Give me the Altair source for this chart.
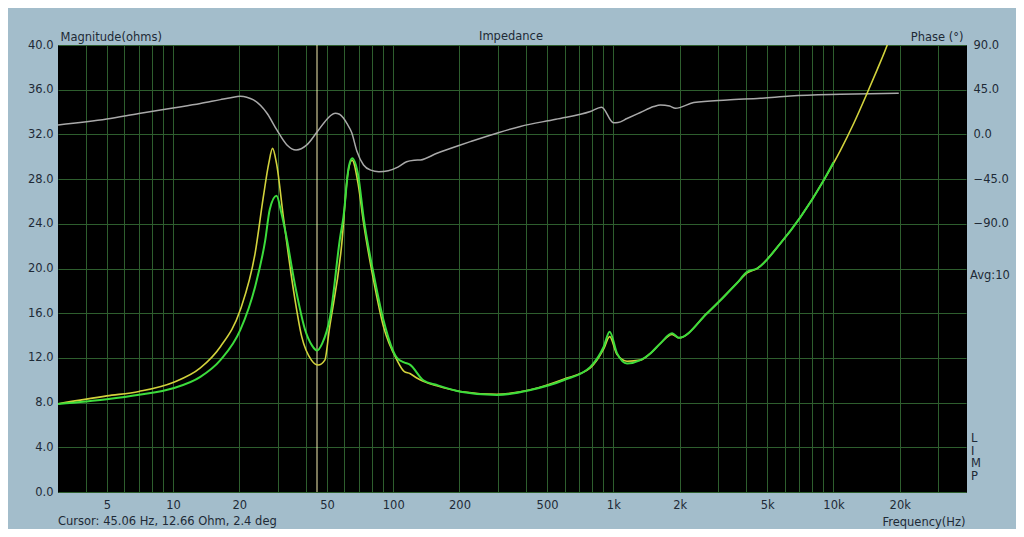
import altair as alt
import pandas as pd

# ---------------- data ----------------
green_freq = [3, 5, 7, 10, 13.3, 16.4, 20.2, 23.6, 26.2, 27.5,
              29.5, 31, 32.3, 35.9, 39.8, 42.8, 45.06, 47.6, 51.7, 57.4,
              59.4, 62.7, 65.1, 69.5, 73.3, 81.3, 90.3, 104, 112, 119,
              137, 158, 202, 296, 420, 594, 786, 904, 962, 1040,
              1154, 1327, 1473, 1636, 1849, 1983, 2668, 3648, 4053, 4500,
              5742, 7079, 9036, 10000]
green_ohm = [7.87, 8.3, 8.7, 9.28, 10.3, 11.8, 14.5, 18.4, 22.5, 25.3,
             26.5, 25.0, 23.4, 18.4, 14.5, 13.1, 12.66, 13.3, 15.7, 22.8,
             24.6, 29.0, 29.86, 28.2, 24.6, 19.6, 15.4, 12.0, 11.6, 11.4,
             10.0, 9.57, 8.98, 8.68, 9.13, 10.0, 11.2, 13.0, 14.35, 12.4,
             11.5, 11.8, 12.4, 13.3, 14.2, 13.8, 16.0, 18.7, 19.7, 20.0,
             22.25, 24.6, 27.9, 29.5]

yellow_freq = [3, 5, 7, 10, 13.3, 16.4, 20.2, 23.6, 25.7, 27.2,
               28.3, 29.5, 31.7, 35.2, 38.4, 42.5, 45.6, 48.9, 51.2, 58.4,
               62, 65, 69.5, 73.3, 81.3, 90.3, 104, 112, 119, 128,
               137, 158, 202, 296, 420, 594, 786, 904, 962, 1040,
               1154, 1327, 1473, 1636, 1849, 1983, 2668, 3648, 4053, 4500,
               5742, 7079, 9036, 10770, 12370, 14230, 15800, 17550, 18500]
yellow_ohm = [7.9, 8.6, 9.0, 9.8, 11.1, 13.0, 16.3, 21.4, 26.4, 29.4,
              30.75, 29.4, 24.6, 18.1, 13.9, 11.8, 11.36, 11.8, 14.5, 22.25,
              28.3, 29.7, 27.4, 24.1, 19.0, 14.8, 11.8, 10.8, 10.6, 10.2,
              9.9, 9.5, 9.0, 8.75, 9.15, 10.1, 11.1, 12.8, 13.9, 12.3,
              11.7, 11.8, 12.4, 13.3, 14.1, 13.8, 16.0, 18.7, 19.6, 20.0,
              22.25, 24.6, 27.9, 30.6, 33.0, 35.7, 37.8, 40.0, 41.3]

phase_freq = [3, 5, 7, 10, 13.3, 16.4, 18.3, 20.2, 21.6, 23.2,
              26.7, 29.6, 32.9, 36.2, 40.5, 45.06, 50, 52, 54.5, 57,
              59.4, 61.6, 64.8, 68.4, 73.3, 79, 86, 95, 105, 115,
              125, 133, 158, 202, 224, 300, 378, 548, 786, 885,
              1000, 1050, 1154, 1327, 1525, 1636, 1800, 1915, 2318, 3288,
              4659, 6378, 10770, 19800]
phase_deg = [9.5, 15.5, 21, 26.5, 31, 35, 37, 38.3, 37.5, 34.7,
             21.3, 4.5, -10.6, -15.7, -10.6, 2.4, 15.3, 19, 21.3, 20.3,
             16.5, 11, 1.7, -17, -30.8, -36, -37.5, -36.5, -33, -27.5,
             -26, -25.7, -19, -10.6, -7.3, 1.7, 8, 15.3, 23, 27.4,
             11.8, 12, 16, 22, 28, 29.6, 28.5, 26.3, 32, 34.7,
             36.4, 38.7, 40.4, 41.4]

cursor_freq = [45.06]

grid_freqs = [4, 5, 6, 7, 8, 9, 10, 20, 30, 40, 50, 60, 70, 80, 90,
              100, 200, 300, 400, 500, 600, 700, 800, 900,
              1000, 2000, 3000, 4000, 5000, 6000, 7000, 8000, 9000,
              10000, 20000, 30000]
label_freqs = [5, 10, 20, 50, 100, 200, 500, 1000, 2000, 5000, 10000, 20000]
mag_ticks = [0, 4, 8, 12, 16, 20, 24, 28, 32, 36, 40]
phase_ticks = [-90, -45, 0, 45, 90]

# ---------------- styling ----------------
BG = "#a3bdcb"
TXT = "#1e2a36"
GRID = "#2e5e2e"
FONT = "DejaVu Sans"
FS = 11.5

green_df = pd.DataFrame({"freq": green_freq, "ohm": green_ohm})
yellow_df = pd.DataFrame({"freq": yellow_freq, "ohm": yellow_ohm})
phase_df = pd.DataFrame({"freq": phase_freq, "deg": phase_deg})
cursor_df = pd.DataFrame({"freq": cursor_freq})
dummy = pd.DataFrame({"a": [0]})

xscale = alt.Scale(type="log", domain=[3, 40000], nice=False)
yscale = alt.Scale(domain=[0, 40], nice=False, zero=False)
pscale = alt.Scale(domain=[-360, 90], nice=False, zero=False)

label_expr = ("indexof([" + ",".join(str(v) for v in label_freqs) + "], datum.value) >= 0 ? "
              "(datum.value >= 1000 ? (datum.value / 1000) + 'k' : '' + datum.value) : ''")

x_axis = alt.Axis(values=grid_freqs, labelExpr=label_expr, grid=True, gridColor=GRID,
                  gridWidth=1, gridOpacity=1, domain=False, ticks=False,
                  labelPadding=7, labelOverlap=False, labelFlush=False,
                  title="Frequency(Hz)", titleX=907, titleY=33, titleAlign="right",
                  titleBaseline="alphabetic")

x_enc = alt.X("freq:Q", scale=xscale, axis=x_axis)

y_axis = alt.Axis(values=mag_ticks, format=".1f", grid=True, gridColor=GRID,
                  gridWidth=1, gridOpacity=1, domain=False, ticks=False,
                  labelPadding=5, labelOverlap=False,
                  title="Magnitude(ohms)", titleAngle=0, titleX=2, titleY=-5,
                  titleAlign="left", titleBaseline="alphabetic")

p_axis = alt.Axis(values=phase_ticks, format=".1f", grid=False, domain=False,
                  ticks=False, orient="right", labelPadding=7, labelOverlap=False,
                  title="Phase (°)", titleAngle=0, titleX=-3, titleY=-5,
                  titleAlign="right", titleBaseline="alphabetic")

cursor = alt.Chart(cursor_df).mark_rule(color="#f4ecb0", strokeWidth=1).encode(x=x_enc)

phase = alt.Chart(phase_df).mark_line(color="#a9a9a9", strokeWidth=1.5, clip=True,
                                      interpolate="monotone").encode(
    x=x_enc, y=alt.Y("deg:Q", scale=pscale, axis=p_axis))

yellow = alt.Chart(yellow_df).mark_line(color="#d2d23c", strokeWidth=1.6, clip=True,
                                        interpolate="monotone").encode(
    x=x_enc, y=alt.Y("ohm:Q", scale=yscale, axis=y_axis))
green = alt.Chart(green_df).mark_line(color="#3cdc3c", strokeWidth=2, clip=True,
                                      interpolate="monotone").encode(
    x=x_enc, y=alt.Y("ohm:Q", scale=yscale, axis=y_axis))
mag = alt.layer(yellow, green)


def label(text, x, y, align="left", baseline="alphabetic", **kw):
    return alt.Chart(dummy).mark_text(text=text, align=align, baseline=baseline,
                                      font=FONT, fontSize=FS, color=TXT, **kw).encode(
        x=alt.value(x), y=alt.value(y))


texts = [
    label("Impedance", 453, -5, align="center"),
    label("Avg:10", 912, 231, baseline="middle"),
    label("L\nI\nM\nP", 913, 388, baseline="top", lineBreak="\n", lineHeight=12.7),
    label("Cursor: 45.06 Hz, 12.66 Ohm, 2.4 deg", 0, 480),
]

chart = alt.layer(cursor, phase, mag, *texts).resolve_scale(y="independent").properties(
    width=908, height=447,
    background=BG,
    padding={"left": 50, "top": 37, "right": 50, "bottom": 37},
    autosize=alt.AutoSizeParams(type="none"),
).configure_view(fill="black", stroke="black").configure_axis(
    labelFont=FONT, labelFontSize=FS, labelColor=TXT,
    titleFont=FONT, titleFontSize=FS, titleColor=TXT, titleFontWeight="normal",
)

chart.save("out.html", embed_options={"renderer": "svg", "actions": False})
